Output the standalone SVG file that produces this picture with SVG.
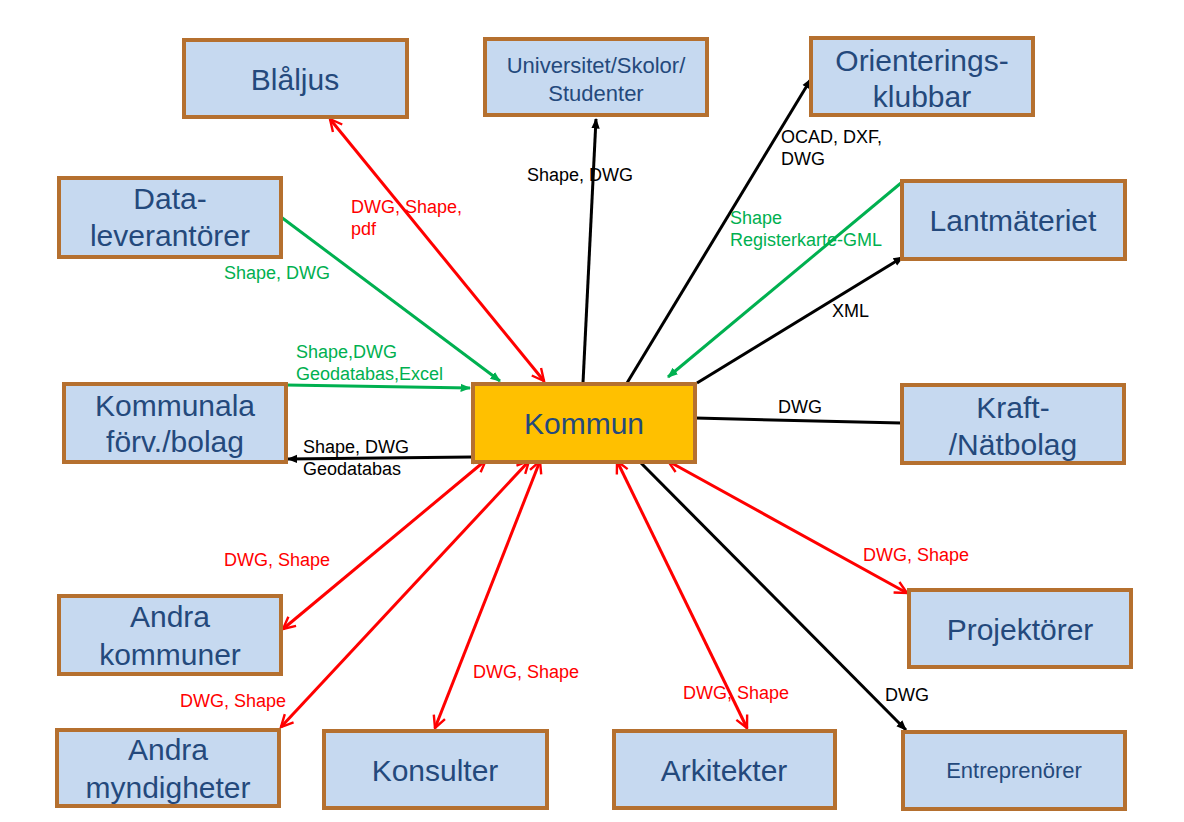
<svg xmlns="http://www.w3.org/2000/svg" width="1184" height="822" viewBox="0 0 1184 822">
<style>
.box{fill:#c6d9f0;stroke:#b5702f;stroke-width:4}
.main{fill:#ffc000;stroke:#b5702f;stroke-width:4}
.nt{font-family:"Liberation Sans",Arial,sans-serif;fill:#24497c;text-anchor:middle;font-size:30px}
.sm{font-size:22px}
.lb{font-family:"Liberation Sans",Arial,sans-serif;font-size:18px}
.r{stroke:#ff0000;stroke-width:3;fill:none}
.k{stroke:#000;stroke-width:3;fill:none}
.g{stroke:#00b050;stroke-width:3;fill:none}
</style>
<defs>
<marker id="mr" viewBox="0 0 10 10" refX="9" refY="5" markerWidth="5" markerHeight="5" orient="auto-start-reverse" markerUnits="strokeWidth"><path d="M1,1 L9,5 L1,9" fill="none" stroke="#ff0000" stroke-width="1.6"/></marker>
<marker id="mk" viewBox="0 0 10 10" refX="9" refY="5" markerWidth="3.5" markerHeight="3.5" orient="auto" markerUnits="strokeWidth"><path d="M0,1 L10,5 L0,9 Z" fill="#000"/></marker>
<marker id="mg" viewBox="0 0 10 10" refX="9" refY="5" markerWidth="3.5" markerHeight="3.5" orient="auto" markerUnits="strokeWidth"><path d="M0,1 L10,5 L0,9 Z" fill="#00b050"/></marker>
</defs>
<rect width="1184" height="822" fill="#fff"/>
<g id="connectors">
<line class="r" x1="330" y1="119" x2="544" y2="381" marker-start="url(#mr)" marker-end="url(#mr)"/>
<line class="k" x1="583" y1="383" x2="596" y2="119" marker-end="url(#mk)"/>
<line class="k" x1="627" y1="383" x2="811" y2="79" marker-end="url(#mk)"/>
<line class="g" x1="281" y1="217" x2="500" y2="381" marker-end="url(#mg)"/>
<line class="g" x1="901" y1="183" x2="668" y2="377" marker-end="url(#mg)"/>
<line class="k" x1="697" y1="383" x2="903" y2="257" marker-end="url(#mk)"/>
<line class="g" x1="286" y1="385" x2="470" y2="388" marker-end="url(#mg)"/>
<line class="k" x1="472" y1="457" x2="288" y2="459" marker-end="url(#mk)"/>
<line class="k" x1="695" y1="418" x2="901" y2="423"/>
<line x1="901" y1="417" x2="901" y2="429" stroke="#000" stroke-width="2"/>
<line class="r" x1="283" y1="629" x2="486" y2="460" marker-start="url(#mr)" marker-end="url(#mr)"/>
<line class="r" x1="281" y1="727" x2="529" y2="461" marker-start="url(#mr)" marker-end="url(#mr)"/>
<line class="r" x1="435" y1="728" x2="540" y2="461" marker-start="url(#mr)" marker-end="url(#mr)"/>
<line class="r" x1="747" y1="728" x2="617" y2="461" marker-start="url(#mr)" marker-end="url(#mr)"/>
<line class="r" x1="668" y1="461" x2="907" y2="593" marker-start="url(#mr)" marker-end="url(#mr)"/>
<line class="k" x1="640" y1="462" x2="906" y2="730" marker-end="url(#mk)"/>
<text class="lb" fill="#ff0000" x="351" y="213">DWG, Shape,</text>
<text class="lb" fill="#ff0000" x="351" y="235">pdf</text>
<text class="lb" fill="#000" x="527" y="181">Shape, DWG</text>
<text class="lb" fill="#000" x="781" y="143">OCAD, DXF,</text>
<text class="lb" fill="#000" x="781" y="165">DWG</text>
<text class="lb" fill="#00b050" x="224" y="279">Shape, DWG</text>
<text class="lb" fill="#00b050" x="730" y="224">Shape</text>
<text class="lb" fill="#00b050" x="730" y="246">Registerkarte-GML</text>
<text class="lb" fill="#000" x="832" y="317">XML</text>
<text class="lb" fill="#00b050" x="296" y="358">Shape,DWG</text>
<text class="lb" fill="#00b050" x="296" y="380">Geodatabas,Excel</text>
<text class="lb" fill="#000" x="303" y="453">Shape, DWG</text>
<text class="lb" fill="#000" x="303" y="475">Geodatabas</text>
<text class="lb" fill="#000" x="778" y="413">DWG</text>
<text class="lb" fill="#ff0000" x="224" y="566">DWG, Shape</text>
<text class="lb" fill="#ff0000" x="180" y="707">DWG, Shape</text>
<text class="lb" fill="#ff0000" x="473" y="678">DWG, Shape</text>
<text class="lb" fill="#ff0000" x="683" y="699">DWG, Shape</text>
<text class="lb" fill="#ff0000" x="863" y="561">DWG, Shape</text>
<text class="lb" fill="#000" x="885" y="701">DWG</text>
</g>
<g id="blaljus"><rect class="box" x="184" y="40" width="223" height="77"/><text class="nt" x="295" y="90">Blåljus</text></g>
<g id="universitet"><rect class="box" x="485" y="39" width="222" height="76"/><text class="nt sm" x="596" y="73">Universitet/Skolor/</text><text class="nt sm" x="596" y="101">Studenter</text></g>
<g id="orientering"><rect class="box" x="811" y="38" width="222" height="77"/><text class="nt" x="922" y="71">Orienterings-</text><text class="nt" x="922" y="107">klubbar</text></g>
<g id="dataleverantorer"><rect class="box" x="59" y="178" width="222" height="79"/><text class="nt" x="170" y="209">Data-</text><text class="nt" x="170" y="246">leverantörer</text></g>
<g id="lantmateriet"><rect class="box" x="902" y="181" width="223" height="78"/><text class="nt" x="1013" y="231">Lantmäteriet</text></g>
<g id="kommunala"><rect class="box" x="64" y="384" width="222" height="78"/><text class="nt" x="175" y="416">Kommunala</text><text class="nt" x="175" y="452">förv./bolag</text></g>
<g id="kommun"><rect class="main" x="473" y="384" width="222" height="78"/><text class="nt" x="584" y="434">Kommun</text></g>
<g id="kraft"><rect class="box" x="902" y="385" width="222" height="78"/><text class="nt" x="1013" y="418">Kraft-</text><text class="nt" x="1013" y="455">/Nätbolag</text></g>
<g id="andrakommuner"><rect class="box" x="59" y="596" width="222" height="78"/><text class="nt" x="170" y="627">Andra</text><text class="nt" x="170" y="665">kommuner</text></g>
<g id="projektorer"><rect class="box" x="909" y="590" width="222" height="77"/><text class="nt" x="1020" y="640">Projektörer</text></g>
<g id="andramyndigheter"><rect class="box" x="57" y="730" width="222" height="76"/><text class="nt" x="168" y="760">Andra</text><text class="nt" x="168" y="798">myndigheter</text></g>
<g id="konsulter"><rect class="box" x="324" y="731" width="223" height="77"/><text class="nt" x="435" y="781">Konsulter</text></g>
<g id="arkitekter"><rect class="box" x="614" y="731" width="221" height="77"/><text class="nt" x="724" y="781">Arkitekter</text></g>
<g id="entreprenorer"><rect class="box" x="903" y="732" width="222" height="77"/><text class="nt sm" x="1014" y="778">Entreprenörer</text></g>
</svg>
